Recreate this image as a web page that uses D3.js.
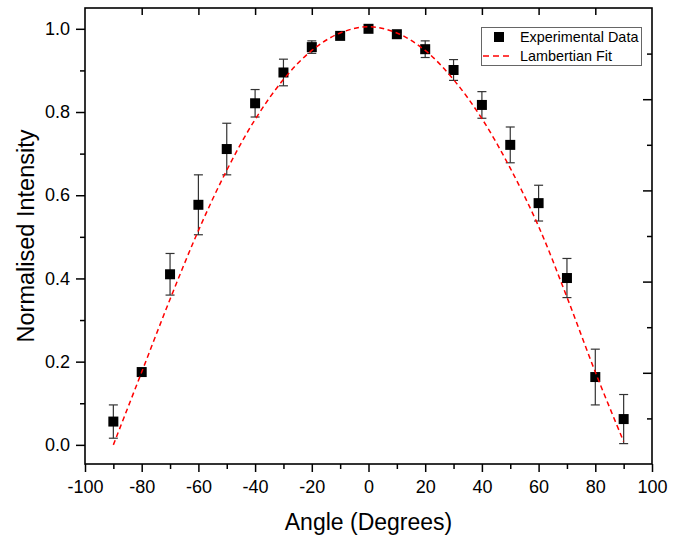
<!DOCTYPE html>
<html>
<head>
<meta charset="utf-8">
<script src="https://cdn.jsdelivr.net/npm/d3@7"></script>
<style>
  body { margin: 0; background: #fff; }
  svg { display: block; font-family: "Liberation Sans", Arial, sans-serif; }
</style>
</head>
<body>
<div id="chart"></div>
<script>
// measured points
const angles = [-90, -80, -70, -60, -50, -40, -30, -20, -10, 0, 10, 20, 30, 40, 50, 60, 70, 80, 90];
const intensity = [0.056, 0.175, 0.41, 0.577, 0.711, 0.821, 0.895, 0.956, 0.983, 1.0, 0.987, 0.951, 0.901, 0.817, 0.721, 0.581, 0.401, 0.163, 0.062];
const errors = [0.04, 0.0, 0.05, 0.072, 0.062, 0.033, 0.032, 0.015, 0.005, 0.004, 0.005, 0.02, 0.025, 0.032, 0.043, 0.043, 0.047, 0.067, 0.059];

// fit curve
const fitAngles = [-90, -80, -70, -60, -50, -40, -30, -20, -10, 0, 10, 20, 30, 40, 50, 60, 70, 80, 90];
const fitValues = [0.0, 0.175, 0.35, 0.515, 0.66, 0.782, 0.878, 0.948, 0.99, 1.005, 0.99, 0.948, 0.878, 0.784, 0.665, 0.525, 0.355, 0.175, 0.008];

const xTicks = [-100, -80, -60, -40, -20, 0, 20, 40, 60, 80, 100];
const yTicks = [0.0, 0.2, 0.4, 0.6, 0.8, 1.0];

(function(){
const W = 680, H = 538;
const m = { left: 85, right: 652, top: 8, bottom: 464 };

const svg = d3.select("#chart").append("svg")
    .attr("width", W)
    .attr("height", H);

const x = d3.scaleLinear().domain([-100, 100]).range([m.left, m.right]);
const y = d3.scaleLinear().domain([-0.046, 1.05]).range([m.bottom, m.top]);
// right axis in Origin has its own 0..1 spacing across the frame
const yR = d3.scaleLinear().domain([0, 1]).range([m.bottom, m.top]);

const points = angles.map((a, i) => ({ a: a, v: intensity[i], e: errors[i] }));
const fit = fitAngles.map((a, i) => ({ a: a, v: fitValues[i] }));

// bottom axis (plain hyphen for negatives, like the original)
const xAxis = svg.append("g")
    .attr("transform", `translate(0,${m.bottom})`)
    .call(d3.axisBottom(x).tickValues(xTicks).tickFormat(d => String(d)).tickSize(8).tickSizeOuter(0).tickPadding(8));
xAxis.append("g").call(d3.axisBottom(x).tickValues(d3.range(-90, 100, 20)).tickSize(5).tickFormat(""));

// left axis
const yAxis = svg.append("g")
    .attr("transform", `translate(${m.left},0)`)
    .call(d3.axisLeft(y).tickValues(yTicks).tickFormat(d => d.toFixed(1)).tickSize(9).tickSizeOuter(0).tickPadding(6));
yAxis.append("g").call(d3.axisLeft(y).tickValues([0.1, 0.3, 0.5, 0.7, 0.9]).tickSize(5).tickFormat(""));

// top ticks (inward)
svg.append("g")
    .attr("transform", `translate(0,${m.top})`)
    .call(d3.axisTop(x).tickValues(d3.range(-80, 100, 20)).tickSize(-7).tickFormat("").tickSizeOuter(0));

// right ticks (inward)
const rAxis = svg.append("g")
    .attr("transform", `translate(${m.right},0)`)
    .call(d3.axisRight(yR).tickValues([0.2, 0.4, 0.6, 0.8]).tickSize(-9).tickFormat("").tickSizeOuter(0));
rAxis.append("g").call(d3.axisRight(yR).tickValues([0.1, 0.3, 0.5, 0.7, 0.9]).tickSize(-5).tickFormat(""));

svg.selectAll(".domain").remove();
svg.selectAll(".tick line").attr("stroke", "#000").attr("stroke-width", 1.5);
svg.selectAll(".tick text").attr("font-size", 18).attr("fill", "#000").attr("font-family", "Liberation Sans, Arial, sans-serif");

// frame
svg.append("rect")
    .attr("x", m.left).attr("y", m.top)
    .attr("width", m.right - m.left).attr("height", m.bottom - m.top)
    .attr("fill", "none").attr("stroke", "#000").attr("stroke-width", 1.6);

// error bars
const eb = svg.append("g").attr("stroke", "#333").attr("stroke-width", 1.2);
points.filter(d => d.e > 0).forEach(d => {
    const cx = x(d.a);
    eb.append("line").attr("x1", cx).attr("x2", cx).attr("y1", y(d.v - d.e)).attr("y2", y(d.v + d.e));
    eb.append("line").attr("x1", cx - 4.5).attr("x2", cx + 4.5).attr("y1", y(d.v + d.e)).attr("y2", y(d.v + d.e));
    eb.append("line").attr("x1", cx - 4.5).attr("x2", cx + 4.5).attr("y1", y(d.v - d.e)).attr("y2", y(d.v - d.e));
});

// squares
svg.append("g").selectAll("rect")
    .data(points)
    .join("rect")
    .attr("x", d => x(d.a) - 5)
    .attr("y", d => y(d.v) - 5)
    .attr("width", 10).attr("height", 10)
    .attr("fill", "#000");

// fit line
const line = d3.line().x(d => x(d.a)).y(d => y(d.v)).curve(d3.curveCatmullRom);
svg.append("path")
    .datum(fit)
    .attr("d", line)
    .attr("fill", "none")
    .attr("stroke", "#ff0000")
    .attr("stroke-width", 1.5)
    .attr("stroke-dasharray", "5,3.5");

// legend
const lg = svg.append("g");
lg.append("rect")
    .attr("x", 481.5).attr("y", 27.5).attr("width", 160).attr("height", 38)
    .attr("fill", "#fff").attr("stroke", "#666").attr("stroke-width", 1);
lg.append("rect").attr("x", 494).attr("y", 32).attr("width", 10).attr("height", 10).attr("fill", "#000");
lg.append("text").attr("x", 520).attr("y", 42).attr("font-size", 14.4).text("Experimental Data");
lg.append("line").attr("x1", 483).attr("x2", 513).attr("y1", 56).attr("y2", 56)
    .attr("stroke", "#ff0000").attr("stroke-width", 1.5).attr("stroke-dasharray", "6,4");
lg.append("text").attr("x", 520).attr("y", 61).attr("font-size", 14.4).text("Lambertian Fit");

// axis titles
svg.append("text")
    .attr("text-anchor", "middle")
    .attr("x", (m.left + m.right) / 2)
    .attr("y", 530)
    .attr("font-size", 23)
    .text("Angle (Degrees)");

svg.append("text")
    .attr("text-anchor", "middle")
    .attr("transform", "rotate(-90)")
    .attr("x", -(m.top + m.bottom) / 2)
    .attr("y", 34)
    .attr("font-size", 23.5)
    .text("Normalised Intensity");
})();
</script>
</body>
</html>
